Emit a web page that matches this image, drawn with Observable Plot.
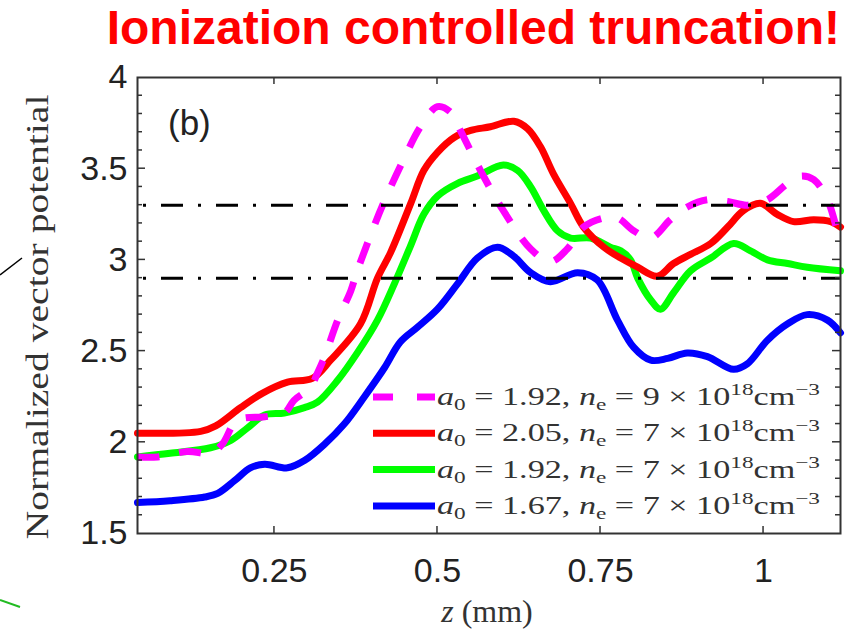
<!DOCTYPE html>
<html><head><meta charset="utf-8">
<script src="https://cdn.jsdelivr.net/npm/d3@7"></script>
<script src="https://cdn.jsdelivr.net/npm/@observablehq/plot@0.6"></script>
<style>
html,body{margin:0;padding:0;background:#fff;}
body{width:858px;height:637px;overflow:hidden;position:relative;}
#title{height:50px;box-sizing:border-box;padding-top:5px;padding-right:18px;text-align:right;font:bold 48px "Liberation Sans",Arial,sans-serif;color:#ff0000;line-height:46px;white-space:nowrap;overflow:visible;}
#chart svg{display:block;}
</style></head><body>
<div id="title">Ionization controlled truncation!</div>
<div id="chart"></div>
<script>
// ---- data ----
const magZ = [0.040,0.071,0.117,0.152,0.170,0.193,0.235,0.265,0.280,0.305,0.316,0.327,0.347,0.367,0.377,0.400,0.417,0.448,0.474,0.500,0.520,0.535,0.566,0.601,0.643,0.673,0.699,0.724,0.755,0.776,0.801,0.827,0.857,0.883,0.914,0.945,0.975,1.006,1.037,1.057,1.077,1.098,1.113,1.118];
const magA = [1.92,1.92,1.95,1.94,1.99,2.12,2.14,2.16,2.23,2.30,2.38,2.47,2.67,2.83,2.94,3.16,3.31,3.55,3.73,3.84,3.81,3.71,3.49,3.27,3.06,2.99,3.06,3.18,3.23,3.23,3.16,3.12,3.22,3.29,3.33,3.32,3.30,3.33,3.42,3.46,3.44,3.33,3.16,3.10];

const redZ = [0.040,0.137,0.160,0.198,0.232,0.270,0.308,0.336,0.382,0.408,0.428,0.459,0.479,0.500,0.525,0.551,0.581,0.617,0.638,0.658,0.678,0.704,0.724,0.755,0.781,0.807,0.837,0.862,0.888,0.919,0.945,0.969,0.995,1.021,1.046,1.077,1.103,1.118];
const redA = [2.05,2.06,2.09,2.19,2.27,2.33,2.35,2.45,2.65,2.90,3.04,3.31,3.49,3.59,3.67,3.71,3.73,3.76,3.72,3.62,3.47,3.31,3.18,3.07,3.01,2.96,2.91,2.98,3.03,3.09,3.18,3.27,3.31,3.25,3.21,3.22,3.21,3.18];

const greenZ = [0.040,0.090,0.152,0.183,0.209,0.235,0.265,0.296,0.316,0.347,0.377,0.408,0.434,0.459,0.479,0.500,0.531,0.561,0.601,0.623,0.643,0.663,0.684,0.704,0.735,0.765,0.781,0.796,0.807,0.827,0.842,0.862,0.888,0.919,0.954,0.980,1.006,1.037,1.067,1.118];
const greenA = [1.92,1.94,1.97,2.01,2.08,2.15,2.16,2.19,2.22,2.34,2.49,2.67,2.87,3.08,3.25,3.35,3.42,3.46,3.52,3.49,3.40,3.27,3.16,3.12,3.12,3.07,3.05,3.00,2.90,2.78,2.73,2.82,2.94,3.01,3.09,3.05,3.00,2.98,2.96,2.94];

const blueZ = [0.040,0.090,0.143,0.163,0.189,0.213,0.235,0.270,0.296,0.327,0.357,0.388,0.419,0.443,0.469,0.500,0.531,0.561,0.592,0.617,0.643,0.673,0.715,0.745,0.776,0.801,0.827,0.853,0.883,0.914,0.954,0.975,1.006,1.037,1.067,1.098,1.118];
const blueA = [1.67,1.68,1.70,1.72,1.79,1.86,1.88,1.86,1.90,1.99,2.10,2.25,2.41,2.55,2.63,2.73,2.87,3.01,3.07,3.02,2.93,2.88,2.93,2.89,2.67,2.52,2.45,2.46,2.49,2.47,2.40,2.43,2.56,2.65,2.70,2.67,2.60];

const thresholds = [2.9, 3.3];
const xTicks = [0.25, 0.5, 0.75, 1];
const yTicks = [1.5, 2, 2.5, 3, 3.5, 4];
const legendA0 = ["1.92", "2.05", "1.92", "1.67"];
const legendNe = ["9", "7", "7", "7"];
const legendColors = ["#ff00ff", "#ff0000", "#00ff00", "#0000ff"];

const toRows = (zs, as) => zs.map((z, i) => ({z, a: as[i]}));
const magRows = toRows(magZ, magA), redRows = toRows(redZ, redA),
      greenRows = toRows(greenZ, greenA), blueRows = toRows(blueZ, blueA);

const DASH = "22,20";
const lineOpts = (c, extra={}) => ({x: "z", y: "a", stroke: c, strokeWidth: 7, curve: "catmull-rom", strokeLinejoin: "round", ...extra});
const fmt = d => String(d);
const OFF = 10; // svg starts 50px below page top

const plot = Plot.plot({
  width: 858, height: 587,
  marginLeft: 137, marginRight: 18, marginTop: 27, marginBottom: 104,
  x: {domain: [0.04, 1.118]},
  y: {domain: [1.5, 4]},
  style: {fontFamily: "'Liberation Sans', Arial, sans-serif", background: "white", color: "#222"},
  marks: [
    Plot.line(blueRows, lineOpts("#0000ff")),
    Plot.line(greenRows, lineOpts("#00ff00")),
    Plot.line(redRows, lineOpts("#ff0000")),
    Plot.line(magRows, lineOpts("#ff00ff", {strokeDasharray: DASH, strokeLinecap: "butt"})),
    Plot.ruleY(thresholds, {stroke: "#000", strokeWidth: 3, strokeDasharray: "22,15,3,15", strokeDashoffset: 31}),
    Plot.frame({stroke: "#333", strokeWidth: 2}),
    Plot.axisY({ticks: yTicks, tickFormat: fmt, tickSize: 0, tickPadding: 10, fontSize: 34, label: null}),
    Plot.axisX({ticks: xTicks, tickFormat: fmt, tickSize: 0, tickPadding: 24, fontSize: 34, label: null})
  ]
});

const svg = d3.select(plot);
const xs = plot.scale("x"), ys = plot.scale("y");
const X0 = xs.apply(0.04), X1 = xs.apply(1.118), Y0 = ys.apply(1.5), Y1 = ys.apply(4);

// inward ticks
const tg = svg.append("g").attr("stroke", "#333").attr("stroke-width", 1.5);
d3.range(16, 40).map(v => v / 10).forEach(v => {
  const major = Math.abs(v * 2 - Math.round(v * 2)) < 1e-6;
  const len = major ? 8 : 5, y = ys.apply(v);
  tg.append("line").attr("x1", X0).attr("x2", X0 + len).attr("y1", y).attr("y2", y);
  tg.append("line").attr("x1", X1).attr("x2", X1 - len).attr("y1", y).attr("y2", y);
});
xTicks.forEach(v => {
  const x = xs.apply(v);
  tg.append("line").attr("x1", x).attr("x2", x).attr("y1", Y0).attr("y2", Y0 - 7);
  tg.append("line").attr("x1", x).attr("x2", x).attr("y1", Y1).attr("y2", Y1 + 7);
});

// panel tag
svg.append("text").attr("x", 168).attr("y", 75 + OFF).attr("text-anchor", "start")
  .attr("font-family", "'Liberation Sans', Arial, sans-serif")
  .attr("font-size", 35).attr("fill", "#222").text("(b)");

// axis labels
svg.append("text").attr("transform", `translate(48,${257 + OFF}) rotate(-90)`).attr("text-anchor", "middle")
  .attr("font-family", "'Liberation Serif', serif").attr("font-size", 31).attr("fill", "#333")
  .attr("textLength", 445).attr("lengthAdjust", "spacingAndGlyphs").text("Normalized vector potential");
const xl = svg.append("text").attr("x", 487).attr("y", 562 + OFF).attr("text-anchor", "middle")
  .attr("font-family", "'Liberation Serif', serif").attr("font-size", 32).attr("fill", "#333");
xl.append("tspan").attr("font-style", "italic").text("z");
xl.append("tspan").text(" (mm)");

// legend
const lg = svg.append("g").attr("text-anchor", "start").style("white-space", "pre");
legendA0.forEach((a0, i) => {
  const yl = 337 + OFF + i * 36.3;
  lg.append("line").attr("x1", 373).attr("x2", 435).attr("y1", yl).attr("y2", yl)
    .attr("stroke", legendColors[i]).attr("stroke-width", 7)
    .attr("stroke-dasharray", i === 0 ? "20,24" : null);
  const t = lg.append("text").attr("x", 437).attr("y", yl + 8).attr("text-anchor", "start")
    .attr("font-family", "'Liberation Serif', serif")
    .attr("font-size", 25).attr("fill", "#333").attr("textLength", 383).attr("lengthAdjust", "spacingAndGlyphs");
  t.append("tspan").attr("font-style", "italic").text("a");
  t.append("tspan").attr("font-size", 17).attr("dy", 5).text("0");
  t.append("tspan").attr("dy", -5).text(" = " + a0 + ", ");
  t.append("tspan").attr("font-style", "italic").text("n");
  t.append("tspan").attr("font-size", 17).attr("dy", 5).text("e");
  t.append("tspan").attr("dy", -5).text(" = " + legendNe[i] + " × 10");
  t.append("tspan").attr("font-size", 17).attr("dy", -10).text("18");
  t.append("tspan").attr("dy", 10).text("cm");
  t.append("tspan").attr("font-size", 17).attr("dy", -10).text("−3");
});

// stray slide strokes at the left edge
svg.append("line").attr("x1", 0).attr("y1", 215 + OFF).attr("x2", 22).attr("y2", 198 + OFF).attr("stroke", "#000").attr("stroke-width", 1.5);
svg.append("line").attr("x1", 0).attr("y1", 540 + OFF).attr("x2", 20).attr("y2", 547 + OFF).attr("stroke", "#22bb22").attr("stroke-width", 2);

document.getElementById("chart").append(plot);
</script>
</body></html>
